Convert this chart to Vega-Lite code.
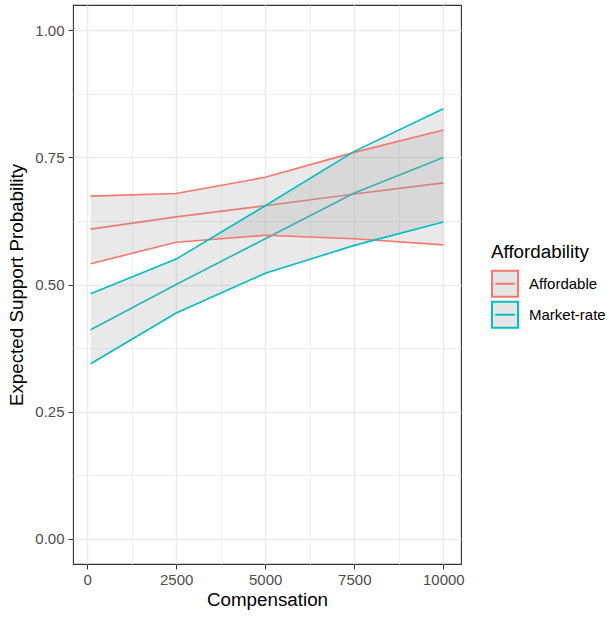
{
  "$schema": "https://vega.github.io/schema/vega-lite/v6.json",
  "autosize": "none",
  "width": 388,
  "height": 559,
  "padding": {"left": 73, "top": 5, "right": 148, "bottom": 54},
  "background": "white",
  "config": {
    "font": "Liberation Sans",
    "view": {"stroke": "#333333", "strokeWidth": 1.1},
    "axis": {
      "domain": false,
      "gridColor": "#ebebeb",
      "tickColor": "#333333",
      "tickSize": 5,
      "labelColor": "#4d4d4d",
      "labelFontSize": 15,
      "labelPadding": 3,
      "titleFontSize": 18.8,
      "titleFontWeight": "normal",
      "titleColor": "#000000"
    }
  },
  "data": {
    "values": [
      {"Compensation": 100, "Affordability": "Affordable", "mean": 0.609, "lo": 0.541, "hi": 0.674},
      {"Compensation": 2500, "Affordability": "Affordable", "mean": 0.633, "lo": 0.583, "hi": 0.679},
      {"Compensation": 5000, "Affordability": "Affordable", "mean": 0.655, "lo": 0.597, "hi": 0.711},
      {"Compensation": 7500, "Affordability": "Affordable", "mean": 0.678, "lo": 0.590, "hi": 0.760},
      {"Compensation": 10000, "Affordability": "Affordable", "mean": 0.700, "lo": 0.578, "hi": 0.804},
      {"Compensation": 100, "Affordability": "Market-rate", "mean": 0.411, "lo": 0.344, "hi": 0.482},
      {"Compensation": 2500, "Affordability": "Market-rate", "mean": 0.500, "lo": 0.444, "hi": 0.550},
      {"Compensation": 5000, "Affordability": "Market-rate", "mean": 0.590, "lo": 0.522, "hi": 0.655},
      {"Compensation": 7500, "Affordability": "Market-rate", "mean": 0.680, "lo": 0.577, "hi": 0.762},
      {"Compensation": 10000, "Affordability": "Market-rate", "mean": 0.750, "lo": 0.623, "hi": 0.846}
    ]
  },
  "encoding": {
    "x": {
      "field": "Compensation",
      "type": "quantitative",
      "scale": {"domain": [-395, 10495], "nice": false, "zero": false},
      "axis": {
        "title": "Compensation",
        "values": [0, 1250, 2500, 3750, 5000, 6250, 7500, 8750, 10000],
        "format": "d",
        "labelExpr": "datum.value % 2500 === 0 ? datum.label : ''",
        "tickOpacity": {"condition": {"test": "datum.value % 2500 !== 0", "value": 0}, "value": 1},
        "gridWidth": {"condition": {"test": "datum.value % 2500 !== 0", "value": 0.8}, "value": 1.6},
        "labelFlush": false,
        "titlePadding": 3
      }
    },
    "color": {
      "field": "Affordability",
      "type": "nominal",
      "scale": {"domain": ["Affordable", "Market-rate"], "range": ["#F8766D", "#00BFC4"]},
      "legend": {
        "orient": "none",
        "legendX": 418,
        "legendY": 238,
        "title": "Affordability",
        "titleFontSize": 18.8,
        "titleFontWeight": "normal",
        "titleColor": "#000000",
        "titlePadding": 8,
        "labelFontSize": 15,
        "labelColor": "#000000",
        "labelOffset": 10,
        "symbolType": "M-1,-1H1V1H-1Z M-0.75,0H0.75",
        "symbolSize": 676,
        "symbolFillColor": "#e6e6e6",
        "symbolStrokeWidth": 2,
        "rowPadding": -3
      }
    }
  },
  "layer": [
    {
      "mark": {"type": "line", "strokeWidth": 1.6},
      "encoding": {
        "y": {
          "field": "mean",
          "type": "quantitative",
          "scale": {"domain": [-0.05, 1.05], "nice": false, "zero": false},
          "axis": {
            "title": "Expected Support Probability",
            "values": [0, 0.125, 0.25, 0.375, 0.5, 0.625, 0.75, 0.875, 1],
            "format": ".2f",
            "labelExpr": "abs(datum.value*4 - round(datum.value*4)) < 0.01 ? datum.label : ''",
            "tickOpacity": {"condition": {"test": "abs(datum.value*4 - round(datum.value*4)) > 0.01", "value": 0}, "value": 1},
            "gridWidth": {"condition": {"test": "abs(datum.value*4 - round(datum.value*4)) > 0.01", "value": 0.8}, "value": 1.6},
            "labelPadding": 4,
            "titlePadding": 8
          }
        }
      }
    },
    {
      "mark": {"type": "area", "fill": "#999999", "opacity": 0.22},
      "encoding": {
        "y": {"field": "lo", "type": "quantitative"},
        "y2": {"field": "hi"},
        "detail": {"field": "Affordability"},
        "color": {"value": "#999999"}
      }
    },
    {
      "mark": {"type": "line", "strokeWidth": 1.6},
      "encoding": {"y": {"field": "lo", "type": "quantitative"}}
    },
    {
      "mark": {"type": "line", "strokeWidth": 1.6},
      "encoding": {"y": {"field": "hi", "type": "quantitative"}}
    }
  ]
}
